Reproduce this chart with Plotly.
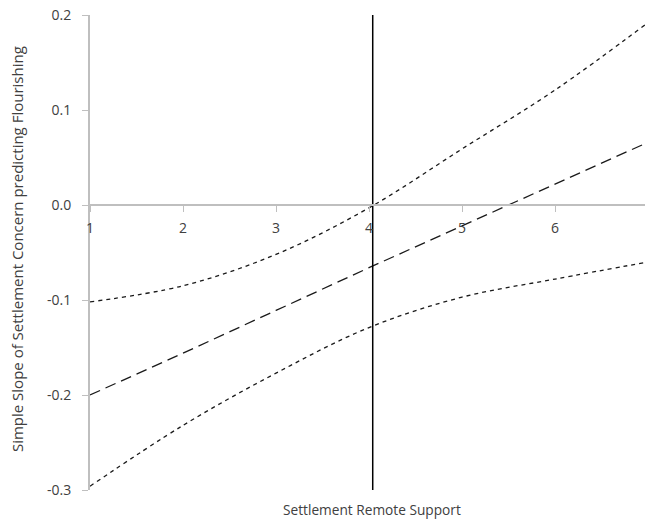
import plotly.graph_objects as go

# Data
x_vals = [1, 2, 3, 4, 5, 6, 7]
slope_mid = [-0.200, -0.156, -0.111, -0.066, -0.022, 0.022, 0.066]
slope_upper = [-0.102, -0.085, -0.052, -0.003, 0.059, 0.121, 0.192]
slope_lower = [-0.296, -0.232, -0.177, -0.129, -0.097, -0.078, -0.060]
jn_x = [4.04, 4.04]
jn_y = [-0.3, 0.2]

x_ticks = [1, 2, 3, 4, 5, 6, 7]
x_ticklabels = ["1", "2", "3", "4", "5", "6", "7"]
y_ticks = [-0.3, -0.2, -0.1, 0.0, 0.1, 0.2]
y_ticklabels = ["-0.3", "-0.2", "-0.1", "0.0", "0.1", "0.2"]

x_title = "Settlement Remote Support"
y_title = "Simple Slope of Settlement Concern predicting Flourishing"

fig = go.Figure()
fig.add_trace(go.Scatter(x=x_vals, y=slope_upper, mode="lines", line_shape="spline",
                         line=dict(color="#1a1a1a", width=1.3, dash="4px,4px"), showlegend=False))
fig.add_trace(go.Scatter(x=x_vals, y=slope_mid, mode="lines",
                         line=dict(color="#1a1a1a", width=1.3, dash="11px,6px"), showlegend=False))
fig.add_trace(go.Scatter(x=x_vals, y=slope_lower, mode="lines", line_shape="spline",
                         line=dict(color="#1a1a1a", width=1.3, dash="4px,4px"), showlegend=False))
fig.add_trace(go.Scatter(x=jn_x, y=jn_y, mode="lines",
                         line=dict(color="#000000", width=1.5), showlegend=False))

font_main = "Open Sans, Liberation Sans, Arial, sans-serif"

fig.update_layout(
    width=648, height=519,
    margin=dict(l=90, r=0, t=15, b=29),
    paper_bgcolor="white", plot_bgcolor="white",
    font=dict(family=font_main, size=13, color="#404040"),
    xaxis=dict(range=[1, 7], tickvals=x_ticks, ticktext=x_ticklabels,
               showgrid=False, zeroline=False, showline=True, linecolor="#bfbfbf", linewidth=1.5,
               ticks="outside", ticklen=6, tickcolor="#bfbfbf", tickwidth=1,
               anchor="free", position=0.6, ticklabelstandoff=4,
               tickfont=dict(size=14, color="#404040")),
    yaxis=dict(range=[-0.3, 0.2], tickvals=y_ticks, ticktext=y_ticklabels,
               showgrid=False, zeroline=False, showline=True, linecolor="#bfbfbf", linewidth=2,
               ticks="outside", ticklen=6, tickcolor="#bfbfbf", tickwidth=1,
               ticklabelstandoff=8,
               tickfont=dict(size=14, color="#404040")),
    annotations=[
        dict(text=x_title, xref="paper", yref="paper", x=0.505, y=-0.042,
             xanchor="center", yanchor="middle", showarrow=False,
             font=dict(size=13.7, color="#404040")),
        dict(text=y_title, xref="paper", yref="paper", x=-0.131, y=0.507,
             xanchor="center", yanchor="middle", textangle=-90, showarrow=False,
             font=dict(size=15, color="#404040")),
    ],
)

fig.write_html("out.html", config={"displayModeBar": False},
               post_script="document.body.style.margin='0';document.body.style.overflow='hidden';")
